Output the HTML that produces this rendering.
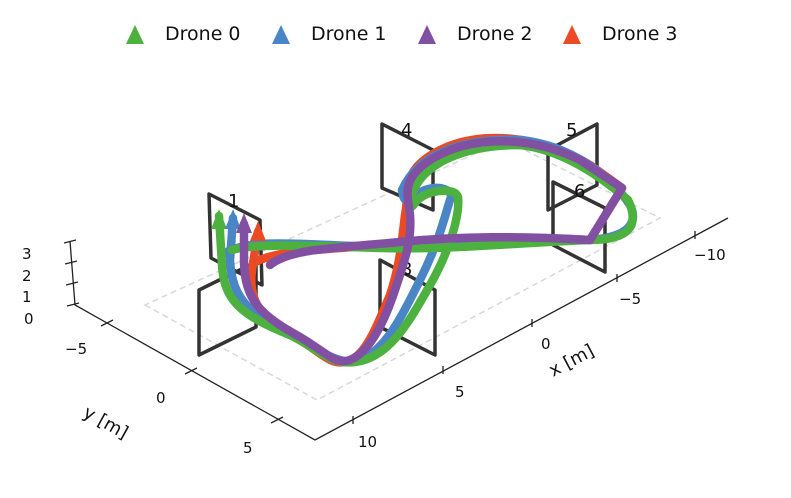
<!DOCTYPE html>
<html><head><meta charset="utf-8"><style>
body{margin:0;background:#fff;}
svg{display:block;font-family:"DejaVu Sans","Liberation Sans",sans-serif;}
</style></head><body>
<svg width="791" height="498" viewBox="0 0 791 498" xmlns="http://www.w3.org/2000/svg">
<!-- legend -->
<g font-size="19" fill="#111">
<polygon points="126,44 135,25 144,44" fill="#4db13f"/><text x="165" y="40">Drone 0</text>
<polygon points="272,44 281,25 290,44" fill="#4a86c6"/><text x="311" y="40">Drone 1</text>
<polygon points="418,44 427,25 436,44" fill="#8150a2"/><text x="457" y="40">Drone 2</text>
<polygon points="563,44 572,25 581,44" fill="#ea4b25"/><text x="602" y="40">Drone 3</text>
</g>
<!-- floor -->
<polygon points="145,305 317,400 660,218 505,140" fill="none" stroke="#d8d8d8" stroke-width="1.5" stroke-dasharray="6,4"/>
<!-- axes -->
<g stroke="#222" stroke-width="1.3" fill="none">
<polyline points="70,241 75,305 315,440 728,218"/>
<line x1="64" y1="243" x2="76" y2="240"/><line x1="65" y1="264" x2="77" y2="261"/><line x1="66" y1="285" x2="78" y2="282"/><line x1="67" y1="306" x2="79" y2="303"/>
<line x1="101" y1="326" x2="113" y2="320"/><line x1="185" y1="374" x2="197" y2="368"/><line x1="271" y1="423" x2="283" y2="417"/>
<line x1="353" y1="416" x2="353" y2="424"/><line x1="443" y1="366" x2="443" y2="374"/><line x1="532" y1="319" x2="532" y2="327"/><line x1="617" y1="274" x2="617" y2="282"/><line x1="695" y1="231" x2="695" y2="239"/>
</g>
<g font-size="15" fill="#111">
<text x="22" y="259">3</text><text x="22" y="281">2</text><text x="22" y="302">1</text><text x="24" y="324">0</text>
<text x="65" y="354">−5</text><text x="156" y="403">0</text><text x="243" y="453">5</text>
<text x="358" y="447">10</text><text x="455" y="397">5</text><text x="541" y="349">0</text><text x="619" y="304">−5</text><text x="694" y="260">−10</text>
<text x="0" y="0" font-size="18" transform="translate(82,416) rotate(29)">y [m]</text>
<text x="0" y="0" font-size="18" transform="translate(553,377) rotate(-28)">x [m]</text>
</g>
<!-- gates -->
<g stroke="#333" stroke-width="3.5" fill="none" stroke-linejoin="round">
<polygon points="209,194 260,220 262,285 211,258"/>
<polygon points="199,290 256,262 256,327 199,355"/>
<polygon points="382,124 433,150 433,210 382,188"/>
<polygon points="380,260 435,290 435,355 380,327"/>
<polygon points="548,150 597,124 597,185 548,210"/>
<polygon points="553,182 605,208 605,272 553,245"/>
</g>
<g font-size="18" fill="#111"><text x="228" y="207">1</text><text x="401" y="136">4</text><text x="566" y="136">5</text><text x="574" y="197">6</text><text x="401" y="275">3</text></g>
<!-- trajectories -->
<g fill="none" stroke-width="8.5" stroke-linecap="round" stroke-linejoin="round">
<path stroke="#ea4b25" d="M258,232 L252,270 C248,300 260,320 300,340 C320,352 330,365 345,362 C365,358 375,330 390,295 C400,265 402,240 405,215 C410,190 400,170 440,150 C480,130 540,135 590,165 L622,188 L590,240 C520,236 460,240 380,245 C320,250 280,250 255,262"/>
<path stroke="#4a86c6" d="M233,218 L230,260 C232,300 250,315 300,340 C330,358 345,365 360,360 C385,350 400,320 420,280 C440,240 445,215 450,200 C455,190 440,185 425,190 C410,196 405,210 402,190 C420,150 470,138 520,140 C570,145 610,175 630,205 C640,225 625,240 580,240 C500,240 420,250 330,245 C270,242 240,242 222,255"/>
<path stroke="#4db13f" d="M219,216 L222,265 C224,300 240,315 290,335 C320,350 330,365 355,362 C390,358 410,320 430,285 C450,250 460,215 458,197 C455,188 435,190 425,195 C412,200 412,215 410,200 C420,160 470,145 520,145 C565,150 605,180 628,200 C640,225 630,240 590,240 C510,243 450,250 380,248 C300,245 250,244 232,250"/>
<path stroke="#8150a2" d="M244,224 L244,262 C245,300 260,315 300,337 C330,355 335,365 350,360 C370,352 385,320 395,290 C405,260 412,240 410,215 C408,195 400,180 430,160 C470,135 530,135 580,160 L622,188 L590,240 C520,236 460,236 400,242 C340,248 290,248 270,265"/>
</g>
<!-- arrowheads at start -->
<polygon points="211,229 219,209 227,229" fill="#4db13f"/>
<polygon points="225,229 233,209 241,229" fill="#4a86c6"/>
<polygon points="236,233 244,213 252,233" fill="#8150a2"/>
<polygon points="250,241 258,221 266,241" fill="#ea4b25"/>
</svg>
</body></html>
